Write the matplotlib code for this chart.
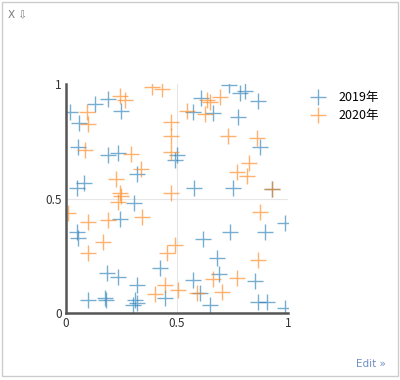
import matplotlib.pyplot as plt
from matplotlib.patches import Rectangle

plt.rcParams['font.family'] = ['Noto Sans CJK SC', 'DejaVu Sans']

series_names = ['2019年', '2020年']
colors = ['#1f77b4', '#ff7f0e']

x_2019 = [0.018, 0.059, 0.131, 0.191, 0.248, 0.055, 0.191, 0.236, 0.318, 0.048,
          0.082, 0.50, 0.49, 0.736, 0.784, 0.806, 0.866, 0.607, 0.573, 0.664,
          0.776, 0.874, 0.577, 0.754, 0.927, 0.308, 0.243, 0.048, 0.053, 0.183,
          0.236, 0.318, 0.423, 0.100, 0.176, 0.179, 0.311, 0.303, 0.318, 0.446,
          0.739, 0.618, 0.896, 0.986, 0.679, 0.691, 0.571, 0.851, 0.604, 0.649,
          0.866, 0.904, 0.986]
y_2019 = [0.879, 0.830, 0.913, 0.933, 0.882, 0.726, 0.690, 0.697, 0.606, 0.545,
          0.566, 0.69, 0.67, 0.996, 0.959, 0.969, 0.926, 0.938, 0.879, 0.875,
          0.857, 0.726, 0.548, 0.545, 0.541, 0.479, 0.409, 0.355, 0.326, 0.173,
          0.159, 0.122, 0.195, 0.057, 0.064, 0.057, 0.057, 0.035, 0.042, 0.064,
          0.355, 0.322, 0.355, 0.392, 0.239, 0.170, 0.144, 0.141, 0.086, 0.035,
          0.049, 0.049, 0.021]

x_2020 = [0.093, 0.100, 0.243, 0.266, 0.386, 0.434, 0.086, 0.293, 0.338, 0.224,
          0.243, 0.475, 0.475, 0.475, 0.475, 0.634, 0.649, 0.694, 0.544, 0.626,
          0.731, 0.859, 0.826, 0.769, 0.814, 0.927, 0.248, 0.236, 0.010, 0.100,
          0.191, 0.341, 0.168, 0.100, 0.491, 0.455, 0.446, 0.401, 0.505, 0.874,
          0.866, 0.664, 0.769, 0.589, 0.701]
y_2020 = [0.879, 0.824, 0.949, 0.930, 0.988, 0.978, 0.712, 0.694, 0.629, 0.584,
          0.523, 0.833, 0.774, 0.702, 0.523, 0.930, 0.923, 0.945, 0.882, 0.868,
          0.774, 0.763, 0.654, 0.617, 0.598, 0.541, 0.511, 0.486, 0.435, 0.399,
          0.406, 0.421, 0.311, 0.261, 0.299, 0.264, 0.122, 0.083, 0.100, 0.442,
          0.234, 0.147, 0.152, 0.086, 0.093]

ticks = [0, 0.5, 1]
tick_labels = ['0', '0.5', '1']

fig = plt.figure(figsize=(4, 3.8), dpi=100)
ax = fig.add_axes([0.165, 0.176, 0.555, 0.603])

for xs, ys, name, c in [(x_2019, y_2019, series_names[0], colors[0]),
                        (x_2020, y_2020, series_names[1], colors[1])]:
    ax.scatter(xs, ys, marker='+', s=125, linewidths=1.0, color=c, alpha=0.6, label=name)

ax.set_xlim(0, 1)
ax.set_ylim(0, 1)
ax.set_xticks(ticks)
ax.set_xticklabels(tick_labels)
ax.set_yticks(ticks)
ax.set_yticklabels(tick_labels)
ax.tick_params(length=0, labelsize=8.5, colors='#333333', pad=3)
ax.axhline(0.5, color='#e6e6e6', lw=0.8, zorder=0)
ax.axvline(0.5, color='#e6e6e6', lw=0.8, zorder=0)
for side in ['top', 'right']:
    ax.spines[side].set_visible(False)
for side in ['left', 'bottom']:
    ax.spines[side].set_color('#555555')
    ax.spines[side].set_linewidth(1.8)

ax.legend(loc='upper left', bbox_to_anchor=(1.03, 1.02), frameon=False, fontsize=9,
          handletextpad=0.6, labelspacing=0.4)

# outer frame and widget texts
fig.patches.append(Rectangle((0.005, 0.01), 0.99, 0.985, transform=fig.transFigure,
                             fill=False, edgecolor='#cccccc', lw=1))
fig.text(0.02, 0.975, 'X ⇩', fontsize=7.5, color='#777777', va='top',
         family=['DejaVu Sans'])
fig.text(0.965, 0.03, 'Edit »', fontsize=7.5, color='#6f8fc7', ha='right', va='bottom',
         family=['DejaVu Sans'])

plt.savefig('out.png', dpi=100)
